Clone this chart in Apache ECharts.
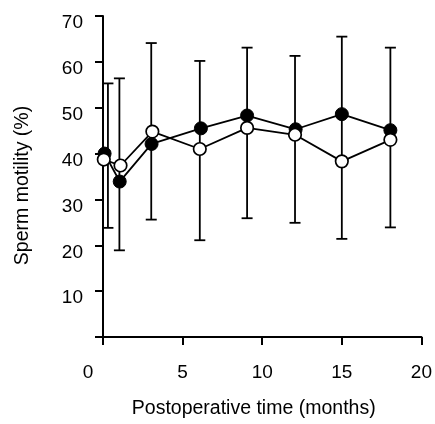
<!DOCTYPE html>
<html>
<head>
<meta charset="utf-8">
<script src="https://cdn.jsdelivr.net/npm/echarts@6/dist/echarts.min.js"></script>
<style>html,body{margin:0;padding:0;background:#fff;}#c{width:435px;height:424px;}</style>
</head>
<body>
<div id="c"></div>
<script>
// Data
var filledMonths = [0.1, 1.05, 3.05, 6.15, 9.05, 12.1, 15.0, 18.05];
var filledMotility = [40.0, 33.9, 42.1, 45.5, 48.3, 45.3, 48.6, 45.1];
var openMonths = [0.05, 1.1, 3.1, 6.08, 9.05, 12.06, 15.0, 18.05];
var openMotility = [38.7, 37.4, 44.8, 41.0, 45.6, 44.1, 38.3, 43.0];
var errMonths = [0.31, 1.03, 3.03, 6.08, 9.05, 12.06, 15.0, 18.05];
var errHigh = [55.3, 56.4, 64.1, 60.2, 63.1, 61.3, 65.5, 63.1];
var errLow = [23.8, 18.9, 25.6, 21.1, 25.9, 24.9, 21.4, 23.9];
var xTicks = [0, 5, 10, 15, 20];
var yTicks = [10, 20, 30, 40, 50, 60, 70];

var FONT = 'Liberation Sans, Arial, Helvetica, sans-serif';
var chart = echarts.init(document.getElementById('c'), null, {renderer: 'canvas'});

function pairs(xs, ys) { return xs.map(function (x, i) { return [x, ys[i]]; }); }
var errData = errMonths.map(function (x, i) { return [x, errLow[i], errHigh[i]]; });

chart.setOption({
  animation: false,
  backgroundColor: '#fff',
  grid: {left: 103, right: 8, top: 16, bottom: 82, containLabel: false},
  xAxis: {
    type: 'value', min: 0, max: 20, interval: 5,
    name: 'Postoperative time (months)', nameLocation: 'middle', nameGap: 62,
    nameTextStyle: {fontFamily: FONT, fontSize: 19.5, color: '#000', padding: [0, 17, 0, 0]},
    axisLine: {show: true, onZero: false, lineStyle: {color: '#000', width: 2}},
    axisTick: {show: true, inside: false, length: 8, lineStyle: {color: '#000', width: 2}},
    axisLabel: {
      margin: 26, fontFamily: FONT, fontSize: 19, color: '#000',
      formatter: function (v) { return xTicks.indexOf(v) < 0 ? '' : (v === 0 ? '{z|0}' : String(v)); },
      rich: {z: {fontFamily: FONT, fontSize: 19, color: '#000', padding: [0, 30, 0, 0]}}
    },
    splitLine: {show: false}
  },
  yAxis: {
    type: 'value', min: 0, max: 70, interval: 10,
    name: 'Sperm motility (%)', nameLocation: 'middle', nameGap: 70, nameRotate: 90,
    nameTextStyle: {fontFamily: FONT, fontSize: 19.5, color: '#000', padding: [0, 18, 0, 0]},
    axisLine: {show: true, onZero: false, lineStyle: {color: '#000', width: 2}},
    axisTick: {show: true, inside: false, length: 8, lineStyle: {color: '#000', width: 2}},
    axisLabel: {
      margin: 20, fontFamily: FONT, fontSize: 19, color: '#000',
      formatter: function (v) { return yTicks.indexOf(v) >= 0 ? '{a|' + v + '}' : ''; },
      rich: {a: {fontFamily: FONT, fontSize: 19, color: '#000', padding: [14, 0, 0, 0]}}
    },
    splitLine: {show: false}
  },
  series: [
    {
      type: 'custom', z: 2, data: errData,
      renderItem: function (params, api) {
        var x = api.value(0);
        var lo = api.coord([x, api.value(1)]);
        var hi = api.coord([x, api.value(2)]);
        var hw = 5.5;
        var st = {stroke: '#000', lineWidth: 1.8, fill: null};
        return {
          type: 'group',
          children: [
            {type: 'line', shape: {x1: lo[0], y1: lo[1], x2: hi[0], y2: hi[1]}, style: st},
            {type: 'line', shape: {x1: hi[0] - hw, y1: hi[1], x2: hi[0] + hw, y2: hi[1]}, style: st},
            {type: 'line', shape: {x1: lo[0] - hw, y1: lo[1], x2: lo[0] + hw, y2: lo[1]}, style: st}
          ]
        };
      }
    },
    {
      type: 'line', z: 3, data: pairs(filledMonths, filledMotility),
      symbol: 'circle', symbolSize: 13, showAllSymbol: true,
      lineStyle: {color: '#000', width: 1.8},
      itemStyle: {color: '#000', borderColor: '#000', borderWidth: 1}
    },
    {
      type: 'line', z: 4, data: pairs(openMonths, openMotility),
      symbol: 'circle', symbolSize: 12.5, showAllSymbol: true,
      lineStyle: {color: '#000', width: 1.8},
      itemStyle: {color: '#fff', borderColor: '#000', borderWidth: 1.7}
    }
  ]
});
</script>
</body>
</html>
